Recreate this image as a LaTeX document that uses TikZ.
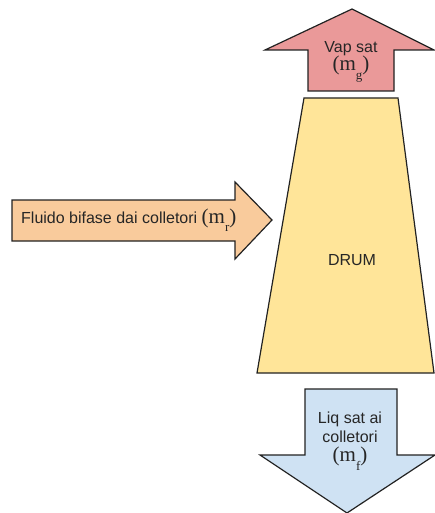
\documentclass[tikz,border=0pt]{standalone}
\usepackage{fontspec}
\setmainfont{Liberation Sans}
\newfontfamily\formulafont{Liberation Serif}
\usetikzlibrary{positioning}

\definecolor{vapfill}{HTML}{EA9999}
\definecolor{feedfill}{HTML}{F9CB9C}
\definecolor{drumfill}{HTML}{FFE599}
\definecolor{liqfill}{HTML}{CFE2F3}
\definecolor{edge}{HTML}{222222}

\newcommand{\flowrate}[1]{{\formulafont\fontsize{21}{21}\selectfont (m\raisebox{-0.4em}{\fontsize{13}{13}\selectfont #1})}}

\tikzset{
  shapeedge/.style={draw=edge, line width=1.2pt, line join=miter},
  label/.style={font=\fontsize{16}{19}\selectfont, text=black!85, align=center, inner sep=0pt},
}

\begin{document}
\begin{tikzpicture}[x=1pt, y=-1pt]
  \useasboundingbox (0,0) rectangle (435,513);

  % steam outlet arrow (up)
  \path[shapeedge, fill=vapfill]
    (352,9) -- (434,50) -- (394,50) -- (394,91) -- (308,91) -- (308,50) -- (265,50) -- cycle;

  % drum body
  \path[shapeedge, fill=drumfill]
    (304,98) -- (398,98) -- (434,373) -- (257,373) -- cycle;

  % two-phase inlet arrow (right)
  \path[shapeedge, fill=feedfill]
    (12,200) -- (235,200) -- (235,182) -- (272,220) -- (235,259) -- (235,241) -- (12,241) -- cycle;

  % saturated liquid outlet arrow (down)
  \path[shapeedge, fill=liqfill]
    (305,389) -- (397,389) -- (397,455) -- (435,455) -- (347,513) -- (260,455) -- (305,455) -- cycle;

  % labels
  \node[label] (vap) at (351,62) {Vap sat\\[-1pt]\flowrate{g}};
  \node[label] (drum) at (352,260) {DRUM};
  \node[label, anchor=west] (feed) at (21,220) {Fluido bifase dai colletori \flowrate{r}};
  \node[label] (liq) at (350,441) {Liq sat ai\\colletori\\[0pt]\flowrate{f}};
\end{tikzpicture}
\end{document}
